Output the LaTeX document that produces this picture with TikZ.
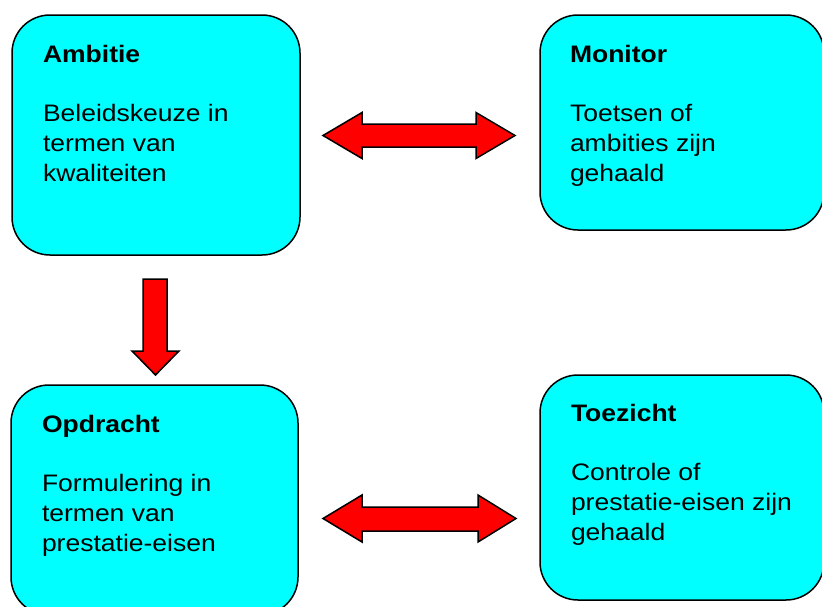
\documentclass[tikz,border=0pt]{standalone}
\usepackage{fontspec}
\setmainfont{Liberation Sans}
\usepackage{graphicx}
\definecolor{boxcyan}{HTML}{00FFFF}
\definecolor{arrred}{HTML}{FF0000}
\tikzset{
  box/.style={draw=black, line width=1.5pt, fill=boxcyan, rounded corners=38pt, inner sep=0pt, outer sep=0pt},
  boxtext/.style={anchor=base west, inner sep=0pt, outer sep=0pt, font=\fontsize{26.5}{33.3}\selectfont},
  blockarrow/.style={draw=black, line width=1.5pt, fill=arrred, line join=miter}
}
\newcommand{\boxcontent}[2]{\scalebox{1}[0.9]{\begin{tabular}[t]{@{}l@{}}\textbf{#1}\\ \\ #2\end{tabular}}}
\begin{document}
\begin{tikzpicture}[x=1pt,y=-1pt]
\useasboundingbox (0,0) rectangle (822,606);
% boxes
\node[box, minimum width=288pt, minimum height=240pt] (amb) at (156,135) {};
\node[box, minimum width=284pt, minimum height=215pt] (mon) at (682,122.5) {};
\node[box, minimum width=287pt, minimum height=230pt] (opd) at (154.5,500) {};
\node[box, minimum width=284pt, minimum height=225pt] (toe) at (682,487.5) {};
% texts
\node[boxtext] (ambt) at (43,62) {\boxcontent{Ambitie}{Beleidskeuze in\\termen van\\kwaliteiten}};
\node[boxtext] (mont) at (570,62) {\boxcontent{Monitor}{Toetsen of\\ambities zijn\\gehaald}};
\node[boxtext] (opdt) at (42,432) {\boxcontent{Opdracht}{Formulering in\\termen van\\prestatie-eisen}};
\node[boxtext] (toet) at (571,421) {\boxcontent{Toezicht}{Controle of\\prestatie-eisen zijn\\gehaald}};
% block arrows
\draw[blockarrow] (323,135.5) -- (362,112.5) -- (362,124) -- (476,124) -- (476,112.5) -- (515,135.5) -- (476,158.5) -- (476,147) -- (362,147) -- (362,158.5) -- cycle;
\draw[blockarrow] (323,518.5) -- (362,495) -- (362,507) -- (478,507) -- (478,495) -- (516,518.5) -- (478,542) -- (478,531) -- (362,531) -- (362,542) -- cycle;
\draw[blockarrow] (143,279) -- (167,279) -- (167,351) -- (179,351) -- (155.5,375) -- (132,351) -- (143,351) -- cycle;
\end{tikzpicture}
\end{document}
